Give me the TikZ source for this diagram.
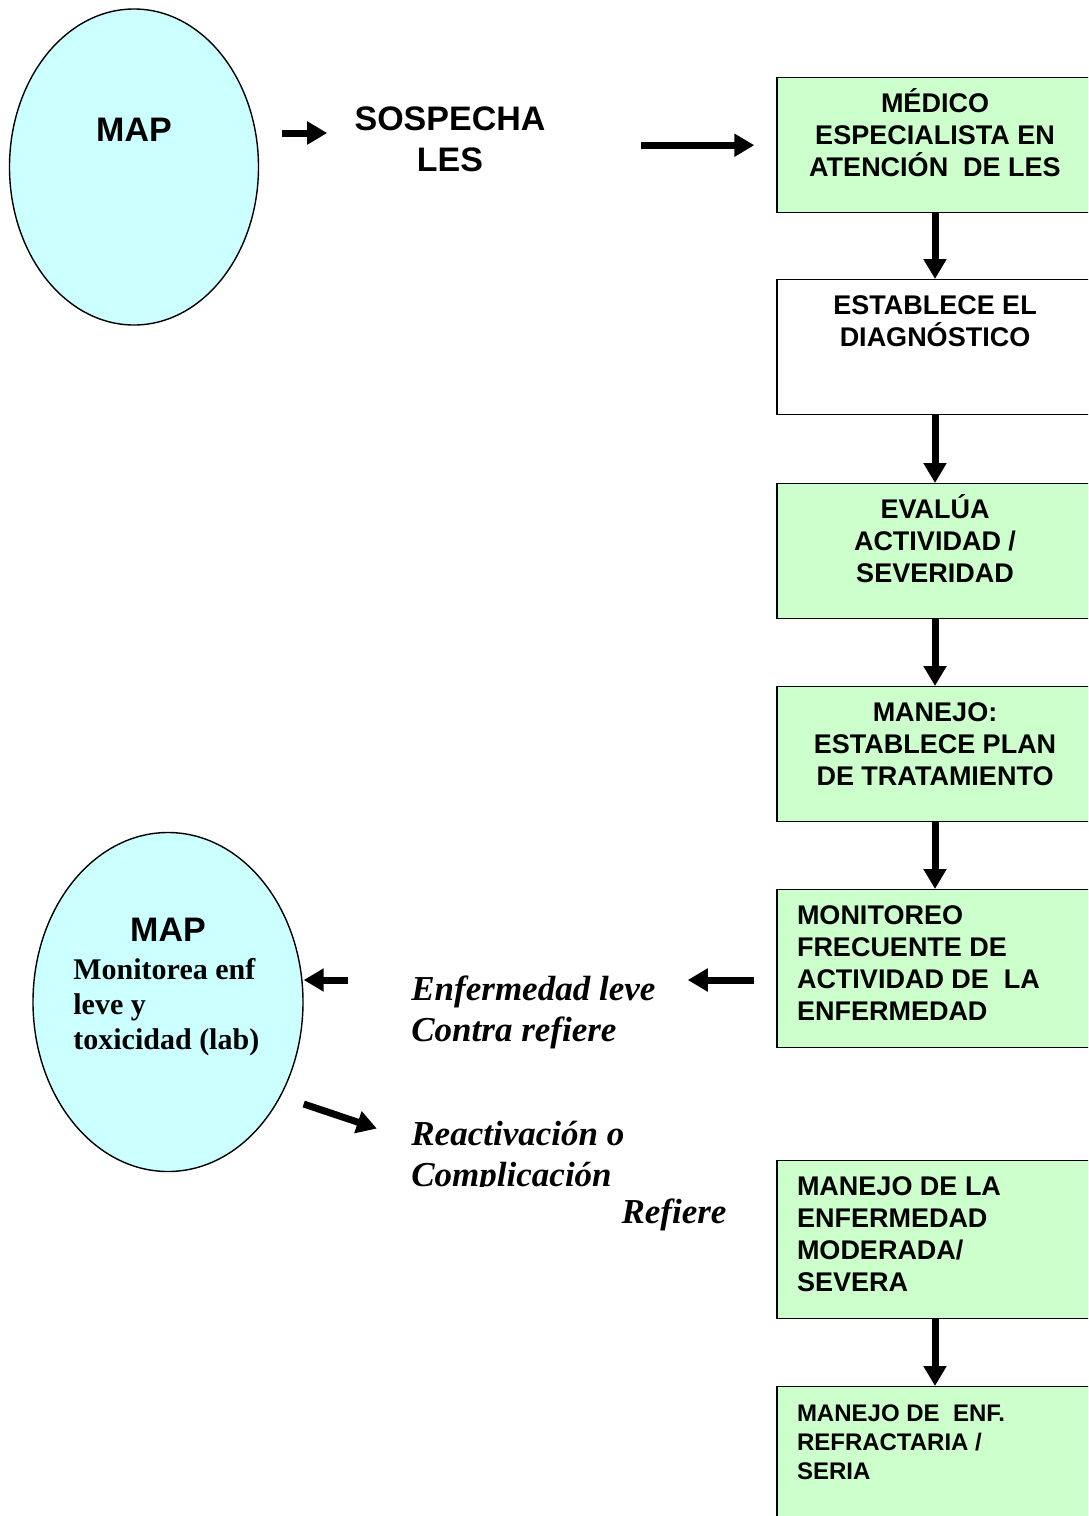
\documentclass[tikz,border=0pt]{standalone}
\usepackage{fontspec}
\setmainfont{Liberation Serif}
\setsansfont{Liberation Sans}
\usetikzlibrary{arrows.meta, shapes.geometric}

\definecolor{mapcyan}{HTML}{CCFFFF}
\definecolor{stepgreen}{HTML}{CCFFCC}

% top-aligned lines inside a flow box: height, alignment, text
\newcommand{\boxlines}[3]{\parbox[c][#1][t]{138pt}{#2\rule{0pt}{17.5pt}#3}}

\begin{document}
\begin{tikzpicture}[x=0.5pt, y=-0.5pt,
      bubble/.style={draw, ellipse, fill=mapcyan, line width=0.7pt, inner sep=0pt},
      flow/.style={draw, rectangle, fill=stepgreen, line width=0.7pt, anchor=north,
                   inner xsep=10pt, inner ysep=0pt,
                   font=\sffamily\bfseries\fontsize{13.5}{16}\selectfont},
      big/.style={font=\sffamily\bfseries\fontsize{17}{20.5}\selectfont, align=center, inner sep=0pt},
      note/.style={font=\bfseries\itshape\fontsize{17.5}{20.5}\selectfont, align=left, inner sep=0pt},
      barrow/.style={line width=3.5pt, -{Triangle[length=10pt, width=11pt]}}]

    \useasboundingbox (0,0) rectangle (1088,1516);
    \clip (0,0) rectangle (1088,1516);

    % first contact
    \node[bubble, minimum width=124.5pt, minimum height=158pt] (map1) at (134,167) {};
    \node[big] (map1txt) at (134,130) {MAP};
    \node[big] (sosp) at (450,139) {SOSPECHA\\LES};

    % specialist flow
    \node[flow] (medico) at (935,77)  {\boxlines{67.5pt}{\centering}{MÉDICO\\ESPECIALISTA EN\\ATENCIÓN~ DE LES}};
    \node[flow, fill=white] (diag) at (935,279) {\boxlines{67.5pt}{\centering}{ESTABLECE EL\\DIAGNÓSTICO}};
    \node[flow] (evalua) at (935,483) {\boxlines{67.5pt}{\centering}{EVALÚA\\ACTIVIDAD /\\SEVERIDAD}};
    \node[flow] (manejo) at (935,686) {\boxlines{67.5pt}{\centering}{MANEJO:\\ESTABLECE PLAN\\DE TRATAMIENTO}};
    \node[flow] (monit)  at (935,889) {\boxlines{79pt}{\raggedright}{MONITOREO\\FRECUENTE DE\\ACTIVIDAD DE~ LA\\ENFERMEDAD}};
    \node[flow] (modsev) at (935,1160) {\boxlines{79pt}{\raggedright}{MANEJO DE LA\\ENFERMEDAD\\MODERADA/\\SEVERA}};
    \node[flow, font=\sffamily\bfseries\fontsize{12}{14.5}\selectfont] (refract) at (935,1386)
         {\boxlines{79pt}{\raggedright}{MANEJO DE~ ENF.\\REFRACTARIA /\\SERIA}};

    % back to primary care
    \node[bubble, minimum width=135pt, minimum height=169.5pt] (map2) at (168,1002) {};
    \node[big] (map2txt) at (168,930) {MAP};
    \node[font=\bfseries\fontsize{15}{17.5}\selectfont, align=left, inner sep=0pt, anchor=west] (map2sub) at (73,1007)
         {Monitorea enf\\leve y\\toxicidad (lab)};

    \node[note, anchor=north west] (enf) at (411,975) {Enfermedad leve\\Contra refiere};
    \begin{scope}
      \clip (380,1100) rectangle (720,1186);
      \node[note, anchor=north west] (react) at (411,1121) {Reactivación o\\Complicación};
    \end{scope}
    \node[note] (refiere) at (674,1215) {Refiere};

    % arrows
    \draw[barrow, shorten <=11.5pt, shorten >=13.5pt] (map1.east |- 0,133) -- (sosp.west |- 0,133);
    \draw[barrow, shorten <=47.5pt, shorten >=11pt] (sosp.east |- medico) -- (medico);
    \draw[barrow] (medico.south) -- (diag.north);
    \draw[barrow] (diag.south)   -- (evalua.north);
    \draw[barrow] (evalua.south) -- (manejo.north);
    \draw[barrow] (manejo.south) -- (monit.north);
    \draw[barrow] (modsev.south) -- (refract.north);
    \draw[barrow, shorten <=11pt, shorten >=16pt] (monit.west |- 0,980) -- (enf.east |- 0,980);
    \draw[barrow, shorten <=31.5pt] (enf.west |- 0,980) -- (map2.east |- 0,980);
    \draw[barrow, shorten >=18pt] (map2.east |- 0,1104) -- (react.west |- 0,1140);

\end{tikzpicture}
\end{document}
